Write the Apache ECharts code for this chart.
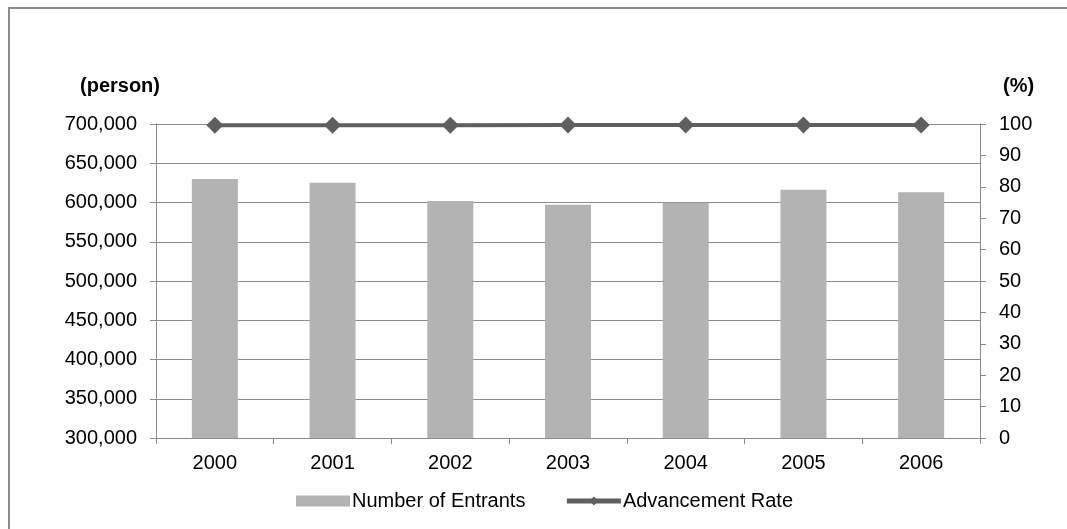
<!DOCTYPE html>
<html>
<head>
<meta charset="utf-8">
<script src="https://cdn.jsdelivr.net/npm/echarts@6/dist/echarts.min.js"></script>
<style>
html,body{margin:0;padding:0;background:#fff;}
#frame{position:absolute;left:8px;top:7px;width:1100px;height:600px;border-left:2px solid #8c8c8c;border-top:2px solid #8c8c8c;box-sizing:border-box;}
#c{position:absolute;left:0;top:0;width:1067px;height:529px;}
</style>
</head>
<body>
<div id="frame"></div>
<div id="c"></div>
<script>
const years = ['2000','2001','2002','2003','2004','2005','2006'];
const entrants = [630000, 625200, 601900, 597200, 599700, 616300, 613000];
const advancementRate = [99.6, 99.6, 99.6, 99.7, 99.7, 99.7, 99.7];
const leftTicks = {min: 300000, max: 700000, interval: 50000};
const rightTicks = {min: 0, max: 100, interval: 10};

const chart = echarts.init(document.getElementById('c'));
const font = 'Liberation Sans, Arial, sans-serif';
const fs = 20;
chart.setOption({
  animation: false,
  textStyle: {fontFamily: font},
  grid: {left: 156, right: 87, top: 124, bottom: 91, containLabel: false},
  legend: {
    left: 291, top: 486,
    itemWidth: 54, itemHeight: 11, itemGap: 39,
    textStyle: {fontSize: fs, color: '#000', fontFamily: font, padding: [0,0,0,-3]},
    data: [
      {name: 'Number of Entrants', icon: 'rect'},
      {name: 'Advancement Rate', lineStyle: {width: 5, color: '#5f5f5f'}, itemStyle: {color: '#5f5f5f'}}
    ]
  },
  xAxis: {
    type: 'category', data: years,
    axisLine: {lineStyle: {color: '#8c8c8c', width: 1}},
    axisTick: {show: true, length: 6, lineStyle: {color: '#8c8c8c'}},
    axisLabel: {fontSize: fs, color: '#000', margin: 15}
  },
  yAxis: [
    {
      type: 'value', min: leftTicks.min, max: leftTicks.max, interval: leftTicks.interval,
      name: '(person)', nameLocation: 'end', nameGap: 28,
      nameTextStyle: {fontSize: fs, fontWeight: 'bold', color: '#000', align: 'right', padding: [0, -4, 0, 0]},
      axisLine: {show: true, lineStyle: {color: '#8c8c8c'}},
      axisTick: {show: true, length: 6, lineStyle: {color: '#8c8c8c'}},
      axisLabel: {fontSize: fs, color: '#000', margin: 19,
        formatter: v => v.toLocaleString('en-US')},
      splitLine: {lineStyle: {color: '#8c8c8c', width: 1}}
    },
    {
      type: 'value', min: rightTicks.min, max: rightTicks.max, interval: rightTicks.interval,
      name: '(%)', nameLocation: 'end', nameGap: 28,
      nameTextStyle: {fontSize: fs, fontWeight: 'bold', color: '#000', align: 'left', padding: [0, 0, 0, 23]},
      axisLine: {show: true, lineStyle: {color: '#8c8c8c'}},
      axisTick: {show: true, length: 6, lineStyle: {color: '#8c8c8c'}},
      axisLabel: {fontSize: fs, color: '#000', margin: 19},
      splitLine: {show: false}
    }
  ],
  series: [
    {
      name: 'Number of Entrants', type: 'bar', data: entrants, barWidth: 46,
      itemStyle: {color: '#b3b3b3'}
    },
    {
      name: 'Advancement Rate', type: 'line', yAxisIndex: 1, data: advancementRate,
      symbol: 'diamond', symbolSize: 17,
      lineStyle: {color: '#5f5f5f', width: 4},
      itemStyle: {color: '#5f5f5f'}
    }
  ]
});
</script>
</body>
</html>
